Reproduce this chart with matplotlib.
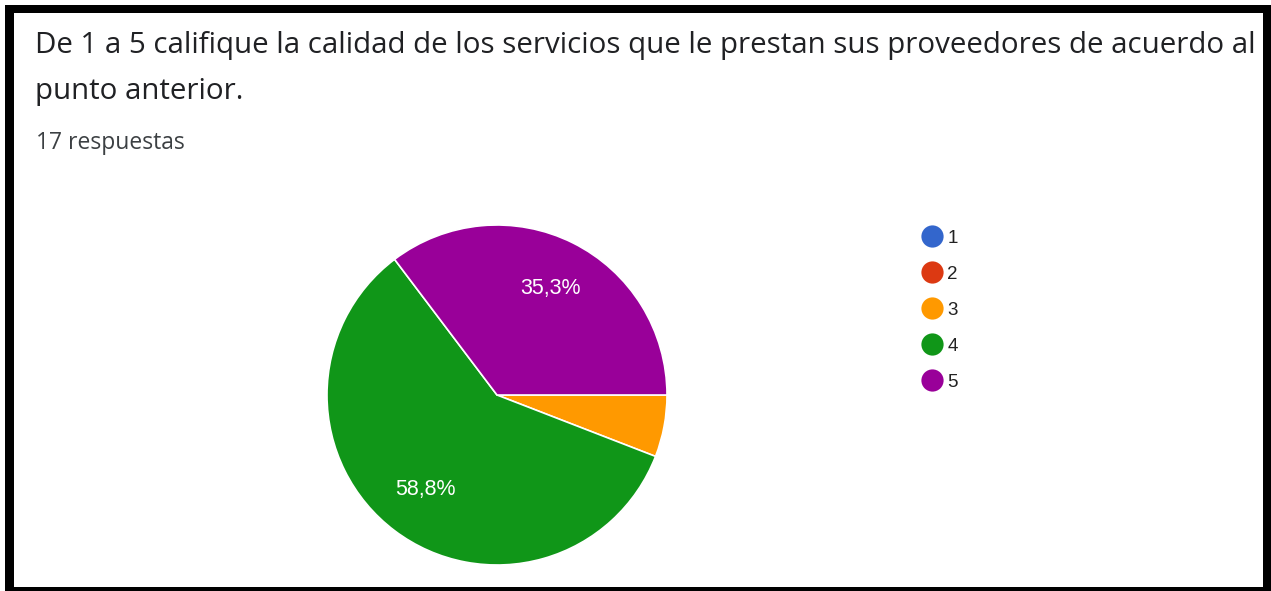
import matplotlib
matplotlib.use("Agg")
import matplotlib.pyplot as plt
from matplotlib.lines import Line2D
from matplotlib.patches import Rectangle

plt.rcParams['font.family'] = ['Open Sans', 'DejaVu Sans']

# respuestas por calificacion
categorias = ['1', '2', '3', '4', '5']
respuestas = [0, 0, 1, 10, 6]
colores = ['#3366cc', '#dc3912', '#ff9900', '#109618', '#990099']

titulo_1 = 'De 1 a 5 califique la calidad de los servicios que le prestan sus proveedores de acuerdo al'
titulo_2 = 'punto anterior.'
subtitulo = '17 respuestas'

W, H = 1271, 591
fig = plt.figure(figsize=(W / 100, H / 100), dpi=100)
fig.patch.set_facecolor('white')

# capa de fondo en pixeles: marco negro y textos
fondo = fig.add_axes([0, 0, 1, 1])
fondo.set_xlim(0, W)
fondo.set_ylim(H, 0)
fondo.axis('off')
fondo.add_patch(Rectangle((5, 5), W - 5, H - 5, facecolor='black', edgecolor='none'))
fondo.add_patch(Rectangle((14, 13), 1263 - 14, 587 - 13, facecolor='white', edgecolor='none'))

t1 = fondo.text(35, 45, titulo_1, fontsize=18, color='#202124', va='center', ha='left')
t2 = fondo.text(35, 92, titulo_2, fontsize=18, color='#202124', va='center', ha='left')
t3 = fondo.text(36, 143, subtitulo, fontsize=12, color='#3c4043', va='center', ha='left')


def ajustar(txt, ancho_px, extra=()):
    # escala el tamano de letra para que el texto ocupe ancho_px
    fig.canvas.draw()
    ancho = txt.get_window_extent().width
    nuevo = txt.get_fontsize() * ancho_px / ancho
    txt.set_fontsize(nuevo)
    for e in extra:
        e.set_fontsize(nuevo)


ajustar(t1, 1220, extra=[t2])
ajustar(t3, 148)

# pastel (solo las categorias con respuestas)
cx, cy, r = 497, 395, 170
ax = fig.add_axes([(cx - r) / W, (H - cy - r) / H, 2 * r / W, 2 * r / H])
valores = [v for v in respuestas if v > 0]
cols = [c for v, c in zip(respuestas, colores) if v > 0]


def etiqueta(p):
    if p < 10:
        return ''
    return f'{p:.1f}%'.replace('.', ',')


wedges, textos, autotextos = ax.pie(
    valores, colors=cols, startangle=0, counterclock=False,
    autopct=etiqueta, pctdistance=0.70, radius=1,
    wedgeprops=dict(edgecolor='white', linewidth=1.2),
    textprops=dict(color='white', fontsize=15.5, family='Liberation Sans'))
ax.set_xlim(-1, 1)
ax.set_ylim(-1, 1)
ax.set_aspect('equal')

# leyenda con todas las categorias
handles = [Line2D([], [], marker='o', ls='', ms=16, color=c, markeredgewidth=0) for c in colores]
fig.legend(handles, categorias, loc='upper left',
           bbox_to_anchor=(905 / W, 1 - 213 / H), frameon=False,
           prop=dict(family='Liberation Sans', size=13.5),
           labelspacing=1.0, handletextpad=0.25,
           handlelength=1.1, labelcolor='#222222')

fig.savefig('out.png', dpi=100, facecolor='white')
